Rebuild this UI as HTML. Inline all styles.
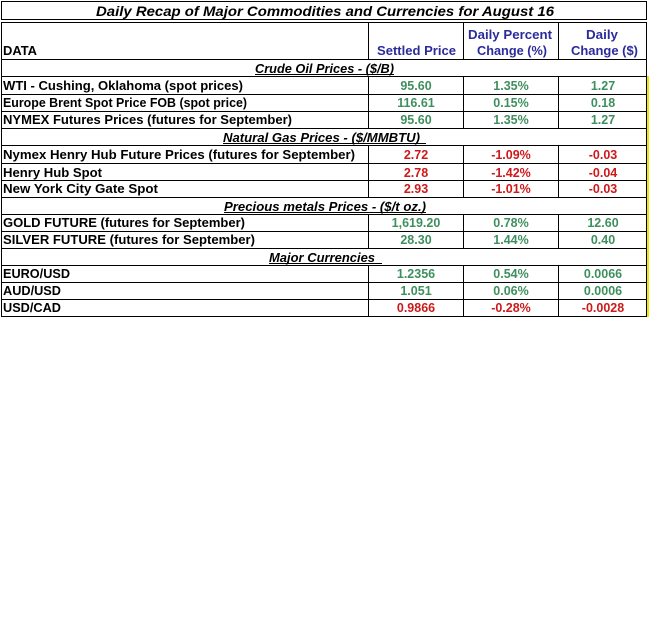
<!DOCTYPE html>
<html><head><meta charset="utf-8"><style>
html,body{margin:0;padding:0;background:#fff;width:649px;height:632px;overflow:hidden}
svg{display:block}
text{font-family:"Liberation Sans",Arial,sans-serif;font-weight:bold;font-size:13px}
.l{fill:#000}
.h{fill:#2b2b9c;text-anchor:middle}
.g{fill:#3f8f5e;text-anchor:middle;font-size:12.5px}
.r{fill:#cc1a1a;text-anchor:middle;font-size:12.5px}
.s{fill:#000;font-style:italic}
</style></head><body>
<svg width="649" height="632" viewBox="0 0 649 632" xmlns="http://www.w3.org/2000/svg">
<rect width="649" height="632" fill="#fff"/>
<!-- yellow edge -->
<rect x="647" y="76" width="2" height="241" fill="#f2e600"/>
<g stroke="#000" stroke-width="1" fill="none" shape-rendering="crispEdges">
<!-- title box -->
<rect x="1.5" y="1.5" width="645" height="18"/>
<!-- outer table -->
<line x1="1.5" y1="22" x2="1.5" y2="317"/>
<line x1="646.5" y1="22" x2="646.5" y2="317"/>
<!-- horizontals -->
<line x1="1" y1="22.5" x2="647" y2="22.5"/>
<line x1="1" y1="59.5" x2="647" y2="59.5"/>
<line x1="1" y1="76.5" x2="647" y2="76.5"/>
<line x1="1" y1="94.5" x2="647" y2="94.5"/>
<line x1="1" y1="111.5" x2="647" y2="111.5"/>
<line x1="1" y1="128.5" x2="647" y2="128.5"/>
<line x1="1" y1="145.5" x2="647" y2="145.5"/>
<line x1="1" y1="163.5" x2="647" y2="163.5"/>
<line x1="1" y1="180.5" x2="647" y2="180.5"/>
<line x1="1" y1="197.5" x2="647" y2="197.5"/>
<line x1="1" y1="214.5" x2="647" y2="214.5"/>
<line x1="1" y1="231.5" x2="647" y2="231.5"/>
<line x1="1" y1="248.5" x2="647" y2="248.5"/>
<line x1="1" y1="265.5" x2="647" y2="265.5"/>
<line x1="1" y1="282.5" x2="647" y2="282.5"/>
<line x1="1" y1="299.5" x2="647" y2="299.5"/>
<line x1="1" y1="316.5" x2="647" y2="316.5"/>
<!-- column verticals -->
<path d="M368.5 22V60M463.5 22V60M558.5 22V60
M368.5 76V129M463.5 76V129M558.5 76V129
M368.5 145V198M463.5 145V198M558.5 145V198
M368.5 214V249M463.5 214V249M558.5 214V249
M368.5 265V317M463.5 265V317M558.5 265V317"/>
<!-- heading underlines -->
<line x1="255" y1="74.5" x2="394" y2="74.5"/>
<line x1="223" y1="143.5" x2="426" y2="143.5"/>
<line x1="224" y1="212.5" x2="426" y2="212.5"/>
<line x1="269" y1="263.5" x2="382" y2="263.5"/>
</g>

<!-- title -->
<text class="s" x="96" y="16" font-size="14" textLength="458" lengthAdjust="spacingAndGlyphs" style="font-size:14px">Daily Recap of Major Commodities and Currencies for  August 16</text>

<!-- header -->
<text class="l" x="3" y="55" textLength="34" lengthAdjust="spacingAndGlyphs">DATA</text>
<text class="h" x="416.5" y="55" textLength="79" lengthAdjust="spacingAndGlyphs">Settled Price</text>
<text class="h" x="510" y="39" textLength="84" lengthAdjust="spacingAndGlyphs">Daily Percent</text>
<text class="h" x="512" y="55" textLength="70" lengthAdjust="spacingAndGlyphs">Change (%)</text>
<text class="h" x="602" y="39" textLength="32" lengthAdjust="spacingAndGlyphs">Daily</text>
<text class="h" x="604.5" y="55" textLength="67" lengthAdjust="spacingAndGlyphs">Change ($)</text>

<!-- headings -->
<text class="s" x="255" y="73" textLength="139" lengthAdjust="spacingAndGlyphs">Crude Oil Prices - ($/B)</text>
<text class="s" x="223" y="142" textLength="197" lengthAdjust="spacingAndGlyphs">Natural Gas Prices -  ($/MMBTU)</text>
<text class="s" x="224" y="211" textLength="202" lengthAdjust="spacingAndGlyphs">Precious metals Prices -  ($/t oz.)</text>
<text class="s" x="269" y="262" textLength="106" lengthAdjust="spacingAndGlyphs">Major Currencies</text>

<!-- labels -->
<text class="l" x="3" y="90" textLength="240" lengthAdjust="spacingAndGlyphs">WTI - Cushing, Oklahoma (spot prices)</text>
<text class="l" x="3" y="107" textLength="244" lengthAdjust="spacingAndGlyphs">Europe Brent Spot Price FOB (spot price)</text>
<text class="l" x="3" y="124" textLength="289" lengthAdjust="spacingAndGlyphs">NYMEX Futures Prices (futures for September)</text>
<text class="l" x="3" y="159" textLength="352" lengthAdjust="spacingAndGlyphs">Nymex Henry Hub Future Prices (futures for September)</text>
<text class="l" x="3" y="177" textLength="99" lengthAdjust="spacingAndGlyphs">Henry Hub Spot</text>
<text class="l" x="3" y="193" textLength="155" lengthAdjust="spacingAndGlyphs">New York City Gate Spot</text>
<text class="l" x="3" y="227" textLength="242" lengthAdjust="spacingAndGlyphs">GOLD FUTURE (futures for September)</text>
<text class="l" x="3" y="244" textLength="252" lengthAdjust="spacingAndGlyphs">SILVER FUTURE (futures for September)</text>
<text class="l" x="3" y="278" textLength="67" lengthAdjust="spacingAndGlyphs">EURO/USD</text>
<text class="l" x="3" y="295" textLength="58" lengthAdjust="spacingAndGlyphs">AUD/USD</text>
<text class="l" x="3" y="312" textLength="58" lengthAdjust="spacingAndGlyphs">USD/CAD</text>

<!-- values -->
<text class="g" x="416" y="90">95.60</text><text class="g" x="511" y="90">1.35%</text><text class="g" x="603" y="90">1.27</text>
<text class="g" x="416" y="107">116.61</text><text class="g" x="511" y="107">0.15%</text><text class="g" x="603" y="107">0.18</text>
<text class="g" x="416" y="124">95.60</text><text class="g" x="511" y="124">1.35%</text><text class="g" x="603" y="124">1.27</text>

<text class="r" x="416" y="159">2.72</text><text class="r" x="511" y="159">-1.09%</text><text class="r" x="603" y="159">-0.03</text>
<text class="r" x="416" y="177">2.78</text><text class="r" x="511" y="177">-1.42%</text><text class="r" x="603" y="177">-0.04</text>
<text class="r" x="416" y="193">2.93</text><text class="r" x="511" y="193">-1.01%</text><text class="r" x="603" y="193">-0.03</text>

<text class="g" x="416" y="227">1,619.20</text><text class="g" x="511" y="227">0.78%</text><text class="g" x="603" y="227">12.60</text>
<text class="g" x="416" y="244">28.30</text><text class="g" x="511" y="244">1.44%</text><text class="g" x="603" y="244">0.40</text>

<text class="g" x="416" y="278">1.2356</text><text class="g" x="511" y="278">0.54%</text><text class="g" x="603" y="278">0.0066</text>
<text class="g" x="416" y="295">1.051</text><text class="g" x="511" y="295">0.06%</text><text class="g" x="603" y="295">0.0006</text>
<text class="r" x="416" y="312">0.9866</text><text class="r" x="511" y="312">-0.28%</text><text class="r" x="603" y="312">-0.0028</text>
</svg>
</body></html>
